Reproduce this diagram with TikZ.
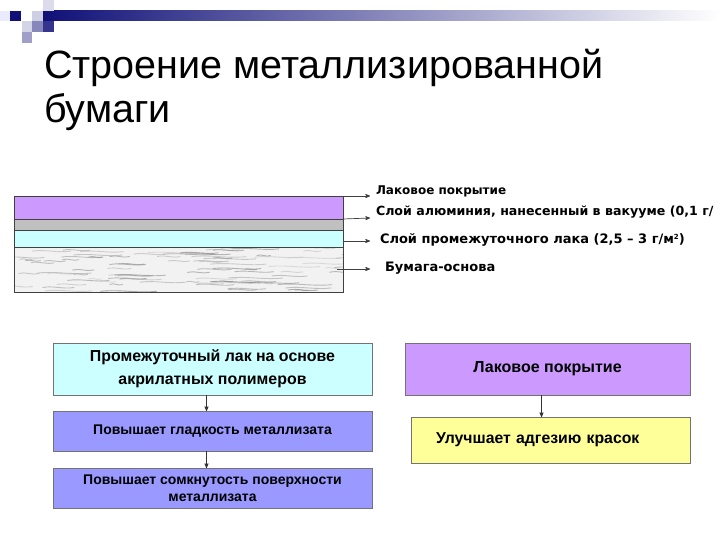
\documentclass[tikz,border=0pt]{standalone}
\usepackage{fontspec}
\setmainfont{Liberation Sans}
\newfontfamily\labfont{DejaVu Sans}
\usetikzlibrary{arrows,positioning}
\definecolor{navy}{RGB}{16,16,120}
\definecolor{lilac}{RGB}{204,153,255}
\definecolor{paleblue}{RGB}{204,255,255}
\definecolor{periw}{RGB}{153,153,255}
\definecolor{paleyel}{RGB}{255,255,153}
\definecolor{alugrey}{RGB}{192,192,192}

\begin{document}
\begin{tikzpicture}[x=1pt, y=-1pt, inner sep=0pt, outer sep=0pt,
>=stealth', layer/.style={draw=black!75, line width=0.8pt, minimum width=329, anchor=north west},
lab/.style={anchor=west, font=\labfont\bfseries\fontsize{13}{15}\selectfont},
lead/.style={->, draw=black!75, line width=0.7pt},
box/.style={draw=black!55, line width=0.8pt, align=center, font=\bfseries\fontsize{14}{18}\selectfont},
flow/.style={->, draw=black!80, line width=0.7pt}]
\useasboundingbox (0,0) rectangle (720,540);
\fill[white] (0,0) rectangle (720,540);
\shade[left color=navy, right color=white] (43,11) rectangle (720,21);
\fill[blue!8] (0,11) rectangle ++(10,10);
\fill[navy] (10,11) rectangle ++(11,10);
\fill[navy!20] (32,11) rectangle ++(11,10);
\fill[navy!15] (43,0) rectangle ++(11,11);
\fill[navy!18] (22,21) rectangle ++(10,11);
\fill[navy!50] (32,21) rectangle ++(11,11);
\fill[navy!85] (43,21) rectangle ++(11,11);
\fill[navy!40] (22,32) rectangle ++(10,11);
\node[anchor=base west, align=left, font=\fontsize{39.5}{44}\selectfont] (title) at (44,123) {Строение металлизированной\\бумаги};
\node[layer, fill=lilac, minimum height=23] (lak) at (14,196) {};
\node[layer, fill=alugrey, minimum height=11] (al) at (14,219) {};
\node[layer, fill=paleblue, minimum height=17] (prom) at (14,230) {};
\node[layer, fill=gray!10, minimum height=45] (paper) at (14,247) {};
\begin{scope}
\clip (paper.north west) rectangle (paper.south east);
\pgfmathsetseed{11}
\foreach \i in {1,...,90}{
\pgfmathsetmacro{\px}{5+340*rnd}
\pgfmathsetmacro{\py}{248+44*rnd}
\pgfmathsetmacro{\pl}{12+45*rnd}
\pgfmathsetmacro{\pg}{20+35*rnd}
\draw[black!\pg, line width=0.9pt, line cap=round, opacity=0.6] (\px,\py) .. controls (\px+\pl/3,\py-2) and (\px+2*\pl/3,\py+2) .. (\px+\pl,\py);
}
\end{scope}
\draw[black!75, line width=0.8pt] (paper.north west) rectangle (paper.south east);
\coordinate (s3) at (343,241);
\coordinate (s4) at (337,269);
\coordinate (t1) at (370,196);
\coordinate (t2) at (370,218);
\coordinate (t3) at (370,241);
\coordinate (t4) at (370,269);
\node[lab, font=\labfont\bfseries\fontsize{12}{14}\selectfont] (l1) at (376,191) {Лаковое покрытие};
\node[lab, font=\labfont\bfseries\fontsize{12.6}{15}\selectfont] (l2) at (376,212) {Слой алюминия, нанесенный в вакууме (0,1 г/};
\node[lab] (l3) at (380,240) {Слой промежуточного лака (2,5 – 3 г/м{\fontsize{7}{8}\selectfont\raisebox{4pt}{2}})};
\node[lab] (l4) at (385,268) {Бумага-основа};
\draw[lead] (lak.north east) -- (t1);
\draw[lead] (lak.south east) -- (t2);
\draw[lead] (s3) -- (t3);
\draw[lead] (s4) -- (t4);
\node[box, fill=paleblue, minimum width=319, minimum height=52, font=\bfseries\fontsize{15.9}{23}\selectfont] (polym) at (212.5,369) {Промежуточный лак на основе\\акрилатных полимеров};
\node[box, fill=periw, minimum width=319, minimum height=40] (smooth) at (212.5,431) {Повышает гладкость металлизата};
\node[box, fill=periw, minimum width=319, minimum height=40, font=\bfseries\fontsize{14}{17.5}\selectfont] (dense) at (212.5,488) {Повышает сомкнутость поверхности\\металлизата};
\node[box, fill=lilac, minimum width=285, minimum height=52, font=\bfseries\fontsize{16}{18}\selectfont] (coat) at (547.5,369) {Лаковое покрытие};
\node[box, fill=paleyel, minimum height=46, inner xsep=25, text width=229, align=left, font=\bfseries\fontsize{15.8}{18}\selectfont] (adh) at (550.5,440) {Улучшает адгезию красок};
\draw[flow] ([xshift=-6]polym.south) -- ([xshift=-6]smooth.north);
\draw[flow] ([xshift=-6]smooth.south) -- ([xshift=-6]dense.north);
\draw[flow] ([xshift=-6]coat.south) -- ([xshift=-9]adh.north);
\end{tikzpicture}
\end{document}
